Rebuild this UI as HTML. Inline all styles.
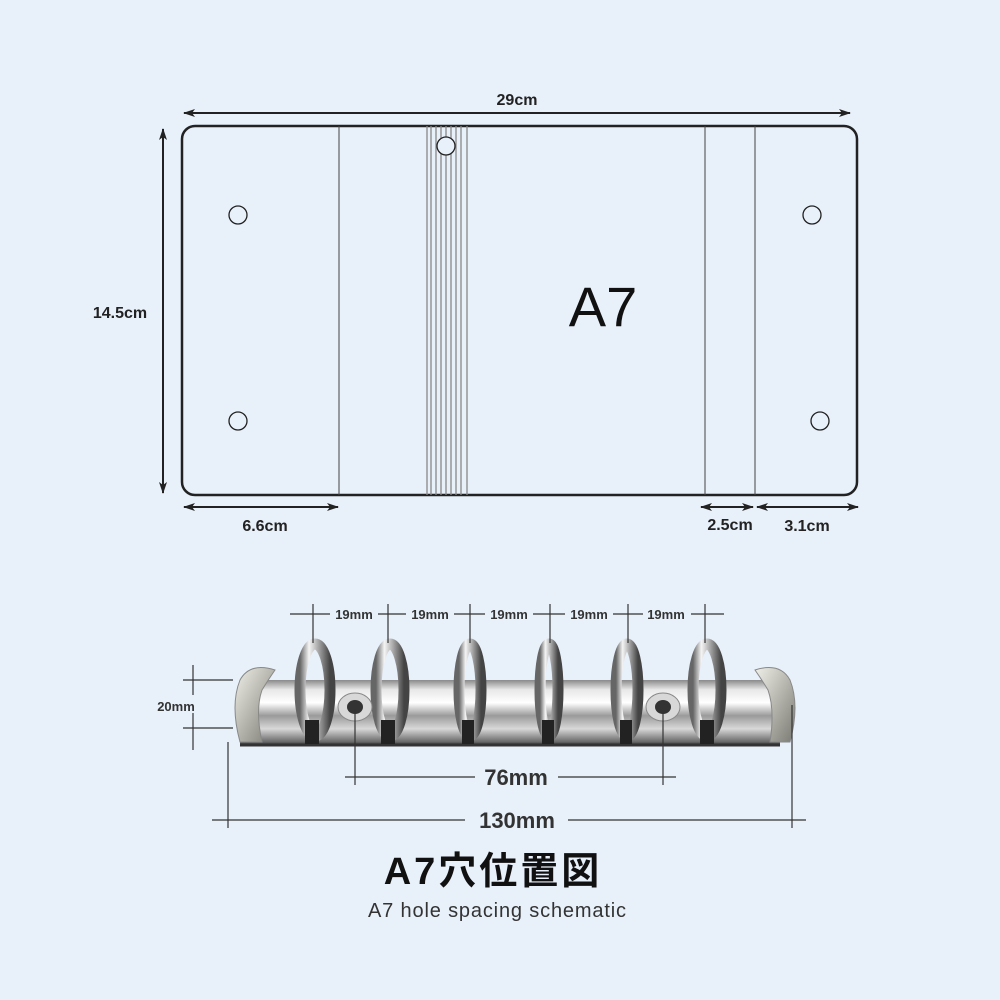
<!DOCTYPE html>
<html><head><meta charset="utf-8"><style>
html,body{margin:0;padding:0;background:#e8f0fa;}
svg{display:block}
text{font-family:"Liberation Sans","Noto Sans CJK JP",sans-serif;}
</style></head><body>
<svg width="1000" height="1000" viewBox="0 0 1000 1000" xmlns="http://www.w3.org/2000/svg">
<defs>
<marker id="ar" markerWidth="12" markerHeight="8" refX="11" refY="4" orient="auto-start-reverse" markerUnits="userSpaceOnUse">
<path d="M0,0 L12,4 L0,8 L3,4 z" fill="#222"/></marker>
<linearGradient id="bar" x1="0" y1="0" x2="0" y2="1">
<stop offset="0" stop-color="#8a8a8a"/><stop offset="0.15" stop-color="#e8e8e8"/><stop offset="0.35" stop-color="#ffffff"/><stop offset="0.55" stop-color="#9a9a9a"/><stop offset="0.75" stop-color="#d8d8d8"/><stop offset="0.95" stop-color="#6a6a6a"/><stop offset="1" stop-color="#333"/></linearGradient>
<linearGradient id="ring" x1="0" y1="0" x2="1" y2="0">
<stop offset="0" stop-color="#666"/><stop offset="0.3" stop-color="#f5f5f5"/><stop offset="0.6" stop-color="#aaa"/><stop offset="1" stop-color="#444"/></linearGradient>
<linearGradient id="cap" x1="0" y1="0" x2="1" y2="1">
<stop offset="0" stop-color="#f0f0ea"/><stop offset="0.5" stop-color="#b5b5ad"/><stop offset="1" stop-color="#7a7a74"/></linearGradient>
</defs>

<rect x="182" y="126" width="675" height="369" rx="13" fill="#e8f0fa" stroke="#222" stroke-width="2.5"/>
<g stroke="#444" stroke-width="1">
<line x1="339" y1="126" x2="339" y2="495"/>
<line x1="705" y1="126" x2="705" y2="495"/>
<line x1="755" y1="126" x2="755" y2="495"/>
</g>
<g stroke="#888" stroke-width="1.3">
<line x1="427" y1="126" x2="427" y2="495"/><line x1="431" y1="126" x2="431" y2="495"/>
<line x1="436" y1="126" x2="436" y2="495"/><line x1="441" y1="126" x2="441" y2="495"/>
<line x1="446" y1="126" x2="446" y2="495"/><line x1="451" y1="126" x2="451" y2="495"/>
<line x1="456" y1="126" x2="456" y2="495"/><line x1="461" y1="126" x2="461" y2="495"/>
<line x1="467" y1="126" x2="467" y2="495"/>
</g>
<g fill="#e8f0fa" stroke="#222" stroke-width="1.3">
<circle cx="446" cy="146" r="9"/>
<circle cx="238" cy="215" r="9"/><circle cx="238" cy="421" r="9"/>
<circle cx="812" cy="215" r="9"/><circle cx="820" cy="421" r="9"/>
</g>
<text x="603" y="326" font-size="56" fill="#111" text-anchor="middle">A7</text>

<g stroke="#222" stroke-width="2" fill="none">
<line x1="184" y1="113" x2="850" y2="113" marker-start="url(#ar)" marker-end="url(#ar)"/>
<line x1="163" y1="129" x2="163" y2="493" marker-start="url(#ar)" marker-end="url(#ar)"/>
<line x1="184" y1="507" x2="338" y2="507" marker-start="url(#ar)" marker-end="url(#ar)"/>
<line x1="701" y1="507" x2="753" y2="507" marker-start="url(#ar)" marker-end="url(#ar)"/>
<line x1="757" y1="507" x2="858" y2="507" marker-start="url(#ar)" marker-end="url(#ar)"/>
</g>
<g font-size="16" font-weight="bold" fill="#222" text-anchor="middle">
<text x="517" y="105">29cm</text>
<text x="120" y="318">14.5cm</text>
<text x="265" y="531">6.6cm</text>
<text x="730" y="530">2.5cm</text>
<text x="807" y="531">3.1cm</text>
</g>

<rect x="240" y="680" width="540" height="65" fill="url(#bar)"/>
<path d="M240,745 L780,745" stroke="#333" stroke-width="3"/>
<g fill="url(#cap)" stroke="#888" stroke-width="1">
<path d="M275,670 Q250,662 240,680 Q230,705 240,742 L262,742 Q255,710 262,690 Q268,680 275,670 z"/>
<path d="M755,670 Q780,662 790,680 Q800,705 790,742 L770,742 Q775,710 768,690 Q762,680 755,670 z"/>
</g>
<g fill="none" stroke="url(#ring)" stroke-width="11">
<ellipse cx="315" cy="690" rx="15" ry="46"/>
<ellipse cx="390" cy="690" rx="14" ry="46"/>
<ellipse cx="470" cy="690" rx="11" ry="46"/>
<ellipse cx="549" cy="690" rx="9" ry="46"/>
<ellipse cx="627" cy="690" rx="11" ry="46"/>
<ellipse cx="707" cy="690" rx="14" ry="46"/>
</g>
<g fill="#222">
<rect x="305" y="720" width="14" height="24"/><rect x="381" y="720" width="14" height="24"/>
<rect x="462" y="720" width="12" height="24"/><rect x="542" y="720" width="12" height="24"/>
<rect x="620" y="720" width="12" height="24"/><rect x="700" y="720" width="14" height="24"/>
</g>
<g>
<ellipse cx="355" cy="707" rx="17" ry="14" fill="#d8d8d8" stroke="#888"/>
<ellipse cx="355" cy="707" rx="8" ry="7" fill="#333"/>
<ellipse cx="663" cy="707" rx="17" ry="14" fill="#d8d8d8" stroke="#888"/>
<ellipse cx="663" cy="707" rx="8" ry="7" fill="#333"/>
</g>

<g stroke="#333" stroke-width="1.2" fill="none">
<line x1="290" y1="614" x2="724" y2="614"/>
<line x1="313" y1="604" x2="313" y2="643"/><line x1="388" y1="604" x2="388" y2="643"/>
<line x1="470" y1="604" x2="470" y2="643"/><line x1="550" y1="604" x2="550" y2="643"/>
<line x1="628" y1="604" x2="628" y2="643"/><line x1="705" y1="604" x2="705" y2="643"/>
<line x1="183" y1="680" x2="233" y2="680"/><line x1="183" y1="728" x2="233" y2="728"/>
<line x1="193" y1="665" x2="193" y2="695"/><line x1="193" y1="713" x2="193" y2="750"/>
<line x1="345" y1="777" x2="475" y2="777"/><line x1="558" y1="777" x2="676" y2="777"/>
<line x1="355" y1="710" x2="355" y2="785"/><line x1="663" y1="710" x2="663" y2="785"/>
<line x1="212" y1="820" x2="465" y2="820"/><line x1="568" y1="820" x2="806" y2="820"/>
<line x1="228" y1="742" x2="228" y2="828"/><line x1="792" y1="705" x2="792" y2="828"/>
</g>
<g font-size="13" font-weight="bold" fill="#333" text-anchor="middle">
<rect x="330" y="606" width="48" height="15" fill="#e8f0fa"/>
<rect x="406" y="606" width="48" height="15" fill="#e8f0fa"/>
<rect x="485" y="606" width="48" height="15" fill="#e8f0fa"/>
<rect x="565" y="606" width="48" height="15" fill="#e8f0fa"/>
<rect x="643" y="606" width="48" height="15" fill="#e8f0fa"/>
<text x="354" y="619">19mm</text><text x="430" y="619">19mm</text>
<text x="509" y="619">19mm</text><text x="589" y="619">19mm</text>
<text x="666" y="619">19mm</text>
<text x="176" y="711">20mm</text>
</g>
<g font-size="22" font-weight="bold" fill="#333" text-anchor="middle">
<text x="516" y="785">76mm</text>
<text x="517" y="828">130mm</text>
</g>
<text x="493" y="884" font-size="38" font-weight="bold" fill="#111" text-anchor="middle" letter-spacing="3">A7穴位置図</text>
<text x="497" y="917" font-size="20" fill="#333" text-anchor="middle" textLength="258">A7 hole spacing schematic</text>
</svg>
</body></html>
